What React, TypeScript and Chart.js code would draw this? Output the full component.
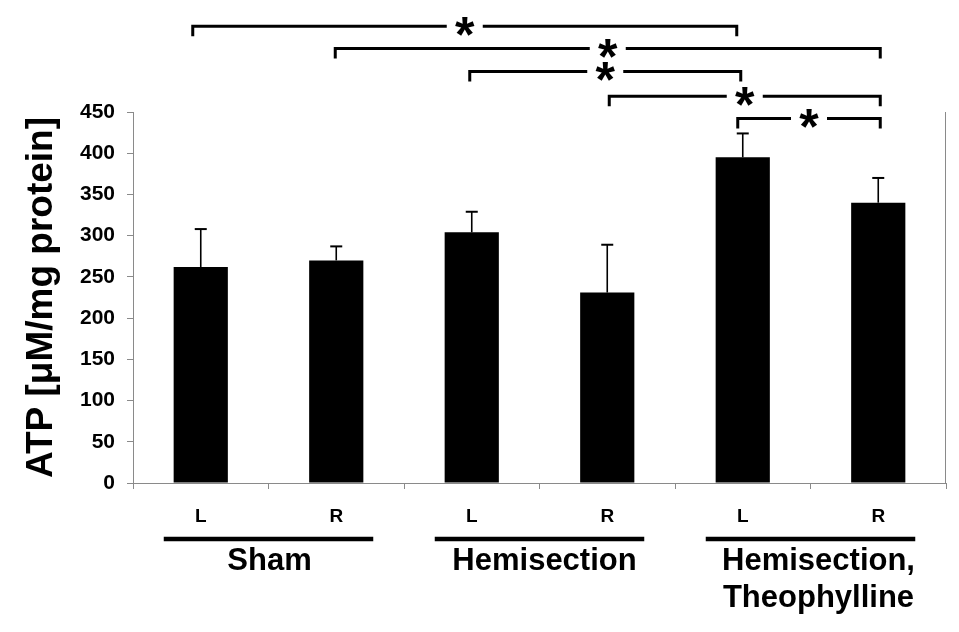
import React, { useEffect, useRef } from "react";
import { Chart, registerables } from "chart.js";

Chart.register(...registerables);

// ---- data ----
const sides = ["L", "R", "L", "R", "L", "R"];
const atpMean = [262, 270, 304, 231, 395, 340];
const atpSd = [46, 17, 25, 58, 29, 30];
const yMax = 450;
const yStep = 50;
const groupNames = [["Sham"], ["Hemisection"], ["Hemisection,", "Theophylline"]];
const groupSpans = [
  [0, 1],
  [2, 3],
  [4, 5],
];
// significance brackets: [from bar, to bar]
const comparisons = [
  [0, 4],
  [1, 5],
  [2, 4],
  [3, 5],
  [4, 5],
];
// bracket heights, in ATP units (above the axis top)
const comparisonLevels = [554, 527, 499, 469, 442];

const FONT = "'Liberation Sans', Arial, Helvetica, sans-serif";
const GRAY = "#8a8a8a";

const bracketNudge = [
  [-8, -6],
  [-1, 2],
  [-2, -2],
  [2, 2],
  [-5, 2],
];
const groupTextNudge = [1, 5, 8];

const annotate = {
  id: "annotate",
  afterDatasetsDraw(chart: any) {
    const ctx = chart.ctx as CanvasRenderingContext2D;
    const xs = chart.scales.x;
    const ys = chart.scales.y;
    const area = chart.chartArea;
    const meta = chart.getDatasetMeta(0);
    ctx.save();

    // error bars (upper only)
    ctx.strokeStyle = "#000";
    meta.data.forEach((bar: any, i: number) => {
      const base = ys.getPixelForValue(atpMean[i]);
      const top = ys.getPixelForValue(atpMean[i] + atpSd[i]);
      ctx.lineWidth = 1.6;
      ctx.beginPath();
      ctx.moveTo(bar.x, base);
      ctx.lineTo(bar.x, top);
      ctx.stroke();
      ctx.lineWidth = 2;
      ctx.beginPath();
      ctx.moveTo(bar.x - 6, top);
      ctx.lineTo(bar.x + 6, top);
      ctx.stroke();
    });

    // right frame line
    ctx.strokeStyle = GRAY;
    ctx.lineWidth = 1;
    ctx.beginPath();
    ctx.moveTo(area.right - 0.5, area.top);
    ctx.lineTo(area.right - 0.5, area.bottom);
    ctx.stroke();

    // significance brackets
    ctx.strokeStyle = "#000";
    ctx.fillStyle = "#000";
    ctx.lineWidth = 3;
    ctx.lineCap = "butt";
    ctx.lineJoin = "miter";
    comparisons.forEach(([a, b], k) => {
      const x1 = xs.getPixelForValue(a) + bracketNudge[k][0];
      const x2 = xs.getPixelForValue(b) + bracketNudge[k][1];
      const yl = ys.getPixelForValue(comparisonLevels[k]);
      const xm = (x1 + x2) / 2;
      const drop = 10;
      const gap = 18;
      ctx.beginPath();
      ctx.moveTo(x1, yl + drop);
      ctx.lineTo(x1, yl);
      ctx.lineTo(xm - gap, yl);
      ctx.stroke();
      ctx.beginPath();
      ctx.moveTo(xm + gap, yl);
      ctx.lineTo(x2, yl);
      ctx.lineTo(x2, yl + drop);
      ctx.stroke();
      ctx.font = `bold 50px ${FONT}`;
      ctx.textAlign = "center";
      ctx.textBaseline = "alphabetic";
      const m = ctx.measureText("*");
      const baseline = yl + (m.actualBoundingBoxAscent - m.actualBoundingBoxDescent) / 2;
      ctx.fillText("*", xm, baseline);
    });

    // group underlines & names
    groupSpans.forEach(([a, b], g) => {
      const x1 = xs.getPixelForValue(a) - 37;
      const x2 = xs.getPixelForValue(b) + 37;
      const yLine = area.bottom + 56;
      ctx.lineWidth = 4.5;
      ctx.beginPath();
      ctx.moveTo(x1, yLine);
      ctx.lineTo(x2, yLine);
      ctx.stroke();
      ctx.font = `bold 31px ${FONT}`;
      ctx.textAlign = "center";
      ctx.textBaseline = "alphabetic";
      const cx = (x1 + x2) / 2 + groupTextNudge[g];
      groupNames[g].forEach((line, li) => {
        ctx.fillText(line, cx, area.bottom + 87 + li * 37);
      });
    });

    ctx.restore();
  },
};

export default function App() {
  const ref = useRef<HTMLCanvasElement | null>(null);

  useEffect(() => {
    if (!ref.current) return;
    const chart = new Chart(ref.current, {
      type: "bar",
      data: {
        labels: sides,
        datasets: [
          {
            data: atpMean,
            backgroundColor: "#000",
            borderWidth: 0,
            barPercentage: 0.4,
            categoryPercentage: 1,
          },
        ],
      },
      options: {
        responsive: false,
        animation: false,
        layout: { padding: { top: 112, right: 13, left: 0, bottom: 0 } },
        plugins: {
          legend: { display: false },
          tooltip: { enabled: false },
        },
        scales: {
          x: {
            grid: {
              display: true,
              drawOnChartArea: false,
              tickLength: 6,
              color: GRAY,
              offset: true,
            },
            border: { display: true, color: GRAY, width: 1 },
            ticks: {
              color: "#000",
              font: { family: FONT, size: 19, weight: "bold" },
              padding: 16,
              maxRotation: 0,
            },
            afterFit: (s: any) => {
              s.height = 149;
            },
          },
          y: {
            min: 0,
            max: yMax,
            grid: {
              display: true,
              drawOnChartArea: false,
              tickLength: 6,
              color: GRAY,
            },
            border: { display: true, color: GRAY, width: 1 },
            ticks: {
              stepSize: yStep,
              color: "#000",
              font: { family: FONT, size: 21, weight: "bold" },
              padding: 12,
            },
            title: {
              display: true,
              text: "ATP [μM/mg protein]",
              color: "#000",
              font: { family: FONT, size: 37, weight: "bold" },
              padding: { top: 20, bottom: 0 },
            },
            afterFit: (s: any) => {
              s.width = 133;
            },
          },
        },
      },
      plugins: [annotate],
    });
    return () => chart.destroy();
  }, []);

  return (
    <div style={{ position: "absolute", left: 0, top: 0, width: 959, height: 632, background: "#fff" }}>
      <canvas ref={ref} width={959} height={632} style={{ display: "block", width: 959, height: 632 }} />
    </div>
  );
}
